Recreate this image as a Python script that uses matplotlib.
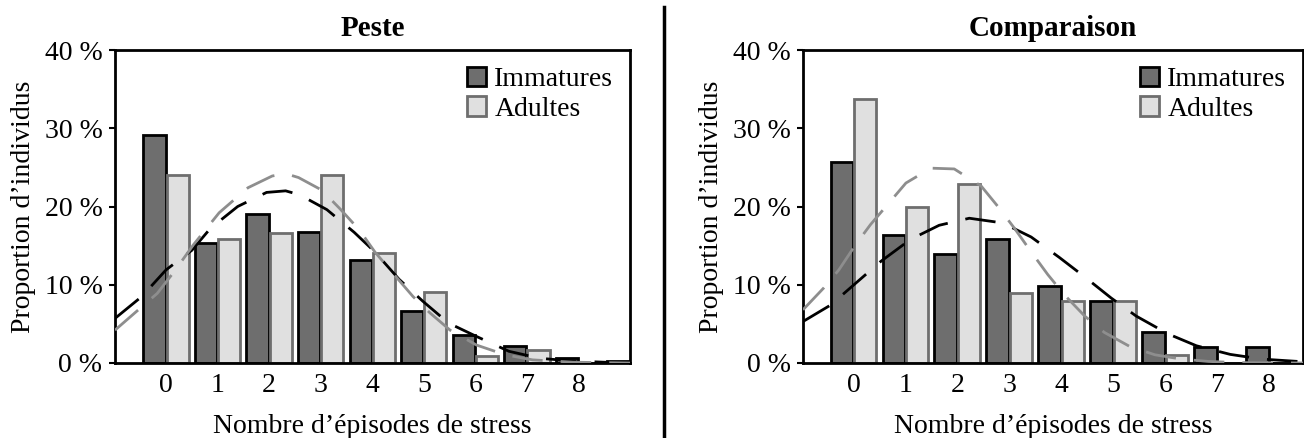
import matplotlib
matplotlib.use("Agg")
import matplotlib.pyplot as plt
from matplotlib.lines import Line2D
from matplotlib.patches import Patch
import numpy as np

plt.rcParams['font.family'] = ['Liberation Serif', 'DejaVu Serif']
plt.rcParams['lines.scale_dashes'] = False

categories = [0, 1, 2, 3, 4, 5, 6, 7, 8, 9]
tick_labels = ['0', '1', '2', '3', '4', '5', '6', '7', '8']

# Peste panel (values in %)
peste_immatures = [29.2, 15.3, 19.0, 16.8, 13.1, 6.6, 3.6, 2.2, 0.7, 0.2]
peste_adultes = [24.0, 15.8, 16.6, 24.0, 14.1, 9.1, 0.9, 1.6, 0.0, 0.0]
# fitted curves
peste_imm_curve_x = [-0.99, -0.47, 0.0, 0.5, 0.86, 1.39, 1.95, 2.32, 2.59, 3.12, 3.65,
                     4.05, 4.52, 4.98, 5.48, 6.02, 6.65, 7.25, 7.9, 8.5, 9.0]
peste_imm_curve_y = [5.7, 8.5, 11.9, 14.4, 17.2, 20.0, 21.8, 22.0, 21.5, 19.6, 16.7,
                     14.2, 10.7, 7.9, 5.1, 3.4, 1.5, 0.6, 0.25, 0.1, 0.05]
peste_adu_curve_x = [-0.99, -0.17, 0.16, 0.53, 1.03, 1.59, 2.06, 2.32, 2.57, 3.02, 3.39,
                     3.75, 4.05, 4.45, 4.79, 5.12, 5.51, 6.02, 6.58, 7.11, 7.9, 9.0]
peste_adu_curve_y = [4.2, 8.9, 11.7, 15.1, 19.2, 22.4, 23.9, 24.2, 23.7, 22.1, 19.6,
                     17.0, 14.2, 11.1, 8.5, 6.4, 4.2, 2.3, 1.05, 0.4, 0.1, 0.0]

# Comparaison panel (values in %)
comp_immatures = [25.7, 16.4, 13.9, 15.9, 9.9, 7.9, 3.9, 2.0, 2.0, 0.0]
comp_adultes = [33.8, 19.9, 22.9, 8.9, 7.9, 7.9, 1.0, 0.0, 0.0, 0.0]
comp_imm_curve_x = [-0.97, -0.44, 0.01, 0.53, 1.1, 1.65, 2.23, 2.87, 3.42, 3.96, 4.45,
                    4.96, 5.44, 6.06, 6.6, 7.25, 7.86, 8.67]
comp_imm_curve_y = [5.3, 7.4, 10.0, 13.0, 15.8, 17.6, 18.5, 17.9, 16.1, 13.5, 11.0,
                    8.3, 6.0, 3.7, 2.2, 1.1, 0.5, 0.15]
comp_adu_curve_x = [-0.97, -0.57, -0.28, 0.04, 0.33, 0.69, 1.01, 1.49, 1.94, 2.46, 2.78,
                    3.1, 3.42, 3.74, 4.06, 4.45, 4.83, 5.32, 5.8, 6.31, 6.83, 7.4, 8.67]
comp_adu_curve_y = [6.8, 9.6, 11.9, 15.1, 17.7, 20.5, 23.0, 24.9, 24.8, 22.6, 20.0,
                    17.2, 14.2, 11.3, 8.7, 6.0, 3.9, 2.1, 1.05, 0.5, 0.2, 0.05, 0.0]

dark = '#6e6e6e'
light = '#e0e0e0'
curve_gray = '#8e8e8e'
fs = 20

fig = plt.figure(figsize=(13.04, 4.38), dpi=100)
ax1 = fig.add_axes([115 / 1304, 75 / 438, 515 / 1304, 313 / 438])
ax2 = fig.add_axes([803 / 1304, 75 / 438, 500 / 1304, 313 / 438])


def draw(ax, title, imm, adu, icx, icy, acx, acy, xlim):
    x = np.array(categories)
    ax.bar(x - 0.225, imm, width=0.43, color=dark, edgecolor='black', linewidth=2, zorder=2)
    ax.bar(x + 0.225, adu, width=0.43, color=light, edgecolor=dark, linewidth=2, zorder=2)
    ax.plot(icx, icy, color='black', lw=2, dashes=(22, 13), zorder=3)
    ax.plot(acx, acy, color=curve_gray, lw=2, dashes=(22, 13), zorder=3)
    ax.set_xlim(*xlim)
    ax.set_ylim(0, 40)
    ax.set_xticks(range(len(tick_labels)))
    ax.set_xticklabels(tick_labels, fontsize=fs)
    ax.set_yticks([0, 10, 20, 30, 40])
    ax.set_yticklabels(['0 %', '10 %', '20 %', '30 %', '40 %'], fontsize=fs)
    ax.tick_params(axis='x', length=0, pad=7)
    ax.tick_params(axis='y', length=4, width=1.5, pad=5)
    for s in ax.spines.values():
        s.set_linewidth(2)
    ax.set_xlabel('Nombre d’épisodes de stress', fontsize=fs, labelpad=12)
    ax.set_ylabel('Proportion d’individus', fontsize=fs, labelpad=6)
    ax.set_title(title, fontsize=21, fontweight='bold', pad=10)
    handles = [Patch(facecolor=dark, edgecolor='black', linewidth=2, label='Immatures'),
               Patch(facecolor=light, edgecolor=dark, linewidth=2, label='Adultes')]
    ax.legend(handles=handles, loc='upper right', frameon=False, fontsize=fs,
              handlelength=0.7, handleheight=0.7, handletextpad=0.3, labelspacing=0.15,
              borderaxespad=0.2)


draw(ax1, 'Peste', peste_immatures, peste_adultes, peste_imm_curve_x, peste_imm_curve_y,
     peste_adu_curve_x, peste_adu_curve_y, (-0.99, 9.0))
draw(ax2, 'Comparaison', comp_immatures, comp_adultes, comp_imm_curve_x, comp_imm_curve_y,
     comp_adu_curve_x, comp_adu_curve_y, (-0.97, 8.65))

fig.add_artist(Line2D([664 / 1304, 664 / 1304], [0, 431 / 438], color='black', lw=2.5))

fig.savefig('out.png', dpi=100)
